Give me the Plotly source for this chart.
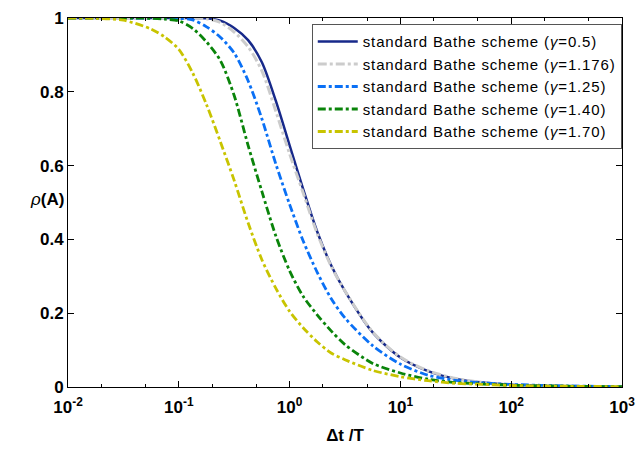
import plotly.graph_objects as go

# Δt/T sample points (log-spaced)
dt_T = [0.01, 0.0178, 0.0316, 0.0562, 0.075, 0.1, 0.133, 0.178, 0.237, 0.316,
        0.422, 0.562, 0.75, 1.0, 1.33, 1.78, 2.37, 3.16, 5.62, 10.0,
        17.8, 31.6, 56.2, 100.0, 316.0, 1000.0]

rho_g050 = [1.0, 1.0, 1.0, 1.0, 1.0, 1.0, 1.0, 0.999, 0.993, 0.973,
            0.94, 0.88, 0.776, 0.655, 0.535, 0.42, 0.33, 0.26, 0.148, 0.08,
            0.043, 0.022, 0.012, 0.006, 0.002, 0.001]
rho_g1176 = [1.0, 1.0, 1.0, 1.0, 1.0, 1.0, 1.0, 0.998, 0.988, 0.962,
             0.922, 0.857, 0.748, 0.632, 0.525, 0.415, 0.328, 0.26, 0.149, 0.081,
             0.044, 0.023, 0.012, 0.006, 0.002, 0.001]
rho_g125 = [1.0, 1.0, 1.0, 1.0, 1.0, 0.999, 0.995, 0.976, 0.948, 0.905,
            0.83, 0.727, 0.605, 0.495, 0.395, 0.31, 0.24, 0.187, 0.112, 0.062,
            0.032, 0.018, 0.011, 0.007, 0.003, 0.001]
rho_g140 = [1.0, 1.0, 1.0, 0.999, 0.997, 0.992, 0.972, 0.935, 0.885, 0.79,
            0.655, 0.53, 0.41, 0.315, 0.245, 0.195, 0.152, 0.115, 0.064, 0.038,
            0.021, 0.012, 0.008, 0.005, 0.002, 0.001]
rho_g170 = [1.0, 0.999, 0.994, 0.97, 0.948, 0.915, 0.852, 0.765, 0.665, 0.56,
            0.445, 0.345, 0.268, 0.205, 0.16, 0.122, 0.092, 0.074, 0.045, 0.028,
            0.017, 0.010, 0.007, 0.004, 0.002, 0.001]

gamma_labels = ["0.5", "1.176", "1.25", "1.40", "1.70"]
series_vals = [rho_g050, rho_g1176, rho_g125, rho_g140, rho_g170]
colors = ["#17298a", "#cccccc", "#0a70f5", "#0a840a", "#c8c400"]
dashes = ["solid", "9px,3px,3px,3px", "8px,3px,3px,3px", "8px,3px,3px,3px", "8px,3px,3px,3px"]
widths = [2.5, 3.0, 2.8, 2.8, 2.8]

x_tickvals = [0.01, 0.1, 1, 10, 100, 1000]
x_ticktext = ["<b>10<sup>-2</sup></b>", "<b>10<sup>-1</sup></b>", "<b>10<sup>0</sup></b>",
              "<b>10<sup>1</sup></b>", "<b>10<sup>2</sup></b>", "<b>10<sup>3</sup></b>"]
y_tickvals = [0, 0.2, 0.4, 0.6, 0.8, 1.0]
y_ticktext = ["<b>0</b>", "<b>0.2</b>", "<b>0.4</b>", "<b>0.6</b>", "<b>0.8</b>", "<b>1</b>"]

fig = go.Figure()
for g, vals, c, d, w in zip(gamma_labels, series_vals, colors, dashes, widths):
    name = ('<span style="letter-spacing:0.85px">standard Bathe scheme (<i>γ</i>=' + g + ')</span>')
    fig.add_trace(go.Scatter(x=dt_T, y=vals, mode="lines", name=name,
                             line=dict(color=c, dash=d, width=w, shape="spline", smoothing=0.8)))

font_family = "Liberation Sans, Arial, sans-serif"
fig.update_layout(
    width=639, height=452,
    margin=dict(l=68, r=17, t=18, b=65),
    plot_bgcolor="white", paper_bgcolor="white",
    font=dict(family=font_family, color="black"),
    showlegend=True,
    legend=dict(x=0.44, y=0.983, xanchor="left", yanchor="top",
                bgcolor="white", bordercolor="#555555", borderwidth=1,
                font=dict(size=15, family=font_family, color="black"),
                itemwidth=40, tracegroupgap=0),
)
fig.update_xaxes(type="log", range=[-2, 3], tickvals=x_tickvals, ticktext=x_ticktext,
                 tickfont=dict(size=17), ticks="inside", ticklen=6, tickcolor="black",
                 showline=True, linecolor="black", linewidth=1, mirror="ticks",
                 showgrid=False, zeroline=False, automargin=False, ticklabelstandoff=5,
                 minor=dict(ticks="inside", ticklen=3, tickcolor="black", showgrid=False),
                 title=dict(text="<b>Δt /T</b>", font=dict(size=17), standoff=12))
fig.update_yaxes(range=[0, 1], tickvals=y_tickvals, ticktext=y_ticktext,
                 tickfont=dict(size=17), ticks="inside", ticklen=6, tickcolor="black",
                 showline=True, linecolor="black", linewidth=1, mirror="ticks",
                 showgrid=False, zeroline=False, automargin=False)
fig.add_annotation(text="<i>ρ</i><b>(A)</b>", xref="paper", yref="paper",
                   x=-0.072, y=0.507, showarrow=False, font=dict(size=17))

fig.write_html("out.html", config={"displayModeBar": False},
               post_script="document.body.style.margin='0';")
